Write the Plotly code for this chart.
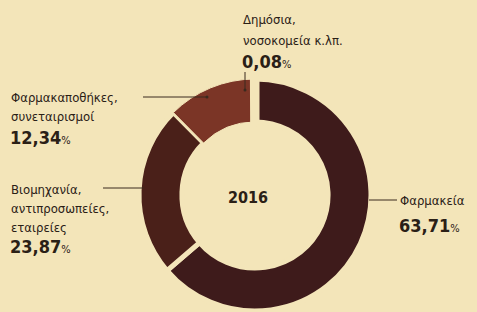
import plotly.graph_objects as go

# ---- data ----
categories = ["Φαρμακεία", "Βιομηχανία, αντιπροσωπείες, εταιρείες",
              "Φαρμακαποθήκες, συνεταιρισμοί", "Δημόσια, νοσοκομεία κ.λπ."]
label_lines = [["Φαρμακεία"],
               ["Βιομηχανία,", "αντιπροσωπείες,", "εταιρείες"],
               ["Φαρμακαποθήκες,", "συνεταιρισμοί"],
               ["Δημόσια,", "νοσοκομεία κ.λπ."]]
shares = [63.71, 23.87, 12.34, 0.08]
center_label = "2016"

# ---- styles ----
W, H = 477, 312
BG = "#f3e5b9"
TXT = "#2a2016"
slice_colors = ["#3e1b1b", "#4a2019", "#7b3526", "#7b3526"]
gap_widths = [5, 5, 1, 9]

def px(x):
    return x / W

def py(y):
    return 1 - y / H

cx, cy, R = 255, 195, 116

fig = go.Figure(go.Pie(
    labels=categories, values=shares, sort=False, direction="clockwise",
    rotation=0, hole=0.63, textinfo="none", hoverinfo="label+percent",
    marker=dict(colors=slice_colors, line=dict(color=BG, width=gap_widths)),
    domain=dict(x=[px(cx - R), px(cx + R)], y=[py(cy + R), py(cy - R)]),
    showlegend=False,
))

FONT = "DejaVu Sans Condensed"
# label anchor: (x_left, y_first_line, line_step)
anchors = [(398, 200, 24), (9, 190, 18.5), (9, 97, 19.5), (241, 19, 21)]
annotations = []
shapes = []
for lines, val, (ax, ay, step) in zip(label_lines, shares, anchors):
    for i, ln in enumerate(lines):
        annotations.append(dict(x=px(ax), y=py(ay + i * step), xref="paper", yref="paper",
                                text=ln, showarrow=False, xanchor="left", yanchor="middle",
                                font=dict(family=FONT, size=13, color=TXT)))
    pct = f"{val:.2f}".replace(".", ",")
    annotations.append(dict(x=px(ax - 1), y=py(ay + len(lines) * step + 1), xref="paper", yref="paper",
                            text=f"<b>{pct}</b><span style='font-size:11px'>%</span>",
                            showarrow=False, xanchor="left", yanchor="middle",
                            font=dict(family=FONT, size=18, color=TXT)))

annotations.append(dict(x=px(248), y=py(197), xref="paper", yref="paper",
                        text=f"<b>{center_label}</b>", showarrow=False,
                        font=dict(family=FONT, size=16, color=TXT)))

# leader lines
leaders = [((369, 200), (397, 200)), ((103, 188), (144, 188)),
           ((143, 97), (207, 97)), ((245, 72), (245, 90))]
for (x0, y0), (x1, y1) in leaders:
    shapes.append(dict(type="line", xref="paper", yref="paper",
                       x0=px(x0), y0=py(y0), x1=px(x1), y1=py(y1),
                       line=dict(color="#3a2a1e", width=1)))
for (x, y) in [(207, 97), (245, 90)]:
    shapes.append(dict(type="circle", xref="paper", yref="paper",
                       x0=px(x - 1.5), y0=py(y - 1.5), x1=px(x + 1.5), y1=py(y + 1.5),
                       fillcolor="#3a2a1e", line=dict(width=0)))

fig.update_layout(width=W, height=H, margin=dict(l=0, r=0, t=0, b=0),
                  paper_bgcolor=BG, plot_bgcolor=BG,
                  annotations=annotations, shapes=shapes)
fig.write_html("out.html", config={"displayModeBar": False},
               post_script="document.body.style.margin='0';document.body.style.background='%s';" % BG)
